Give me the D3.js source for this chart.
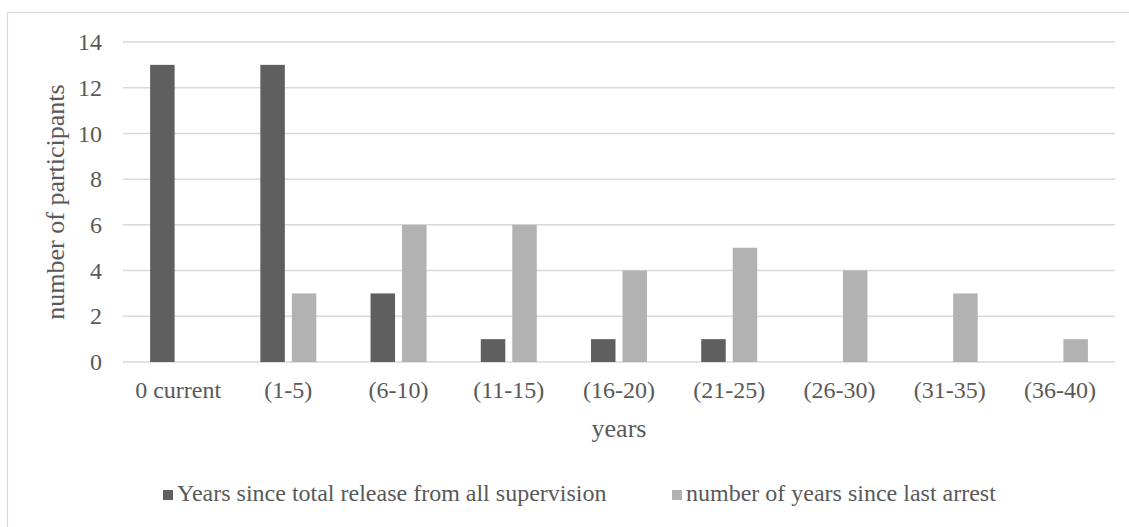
<!DOCTYPE html>
<html>
<head>
<meta charset="utf-8">
<script src="https://cdn.jsdelivr.net/npm/d3@7"></script>
<style>
  html, body { margin: 0; padding: 0; background: #fff; }
  svg { display: block; }
  text { font-family: "Liberation Serif", "Times New Roman", serif; fill: #595959; }
</style>
</head>
<body>
<svg id="chart" width="1129" height="527"></svg>
<script>
// Age-range categories on the x axis
const categories = ["0 current", "(1-5)", "(6-10)", "(11-15)", "(16-20)", "(21-25)", "(26-30)", "(31-35)", "(36-40)"];
// Series names
const seriesNames = ["Years since total release from all supervision", "number of years since last arrest"];
// Participants per range, one array per series
const releaseValues = [13, 13, 3, 1, 1, 1, 0, 0, 0];
const arrestValues = [0, 3, 6, 6, 4, 5, 4, 3, 1];
// Y axis ticks
const yTicks = [0, 2, 4, 6, 8, 10, 12, 14];

const seriesColors = ["#5f5f5f", "#b2b2b2"];
const seriesValues = [releaseValues, arrestValues];

const svg = d3.select("#chart");
const W = 1129, H = 527;
const plot = { left: 123, right: 1115, top: 42, bottom: 362 };

// Outer chart frame (runs off the right and bottom edges)
svg.append("rect")
  .attr("x", 7.5).attr("y", 12.5)
  .attr("width", 1200).attr("height", 600)
  .attr("fill", "none").attr("stroke", "#d9d9d9").attr("stroke-width", 1.2);

const y = d3.scaleLinear().domain([0, 14]).range([plot.bottom, plot.top]);
const x0 = d3.scaleBand().domain(categories)
  .range([plot.left, plot.right])
  .paddingInner(0.492).paddingOuter(0.246);
const x1 = d3.scaleBand().domain(d3.range(seriesNames.length))
  .range([0, x0.bandwidth()])
  .paddingInner(0.222);

// Horizontal gridlines
svg.append("g").selectAll("line")
  .data(yTicks)
  .join("line")
  .attr("x1", plot.left).attr("x2", plot.right)
  .attr("y1", d => y(d)).attr("y2", d => y(d))
  .attr("stroke", "#d9d9d9").attr("stroke-width", 1.5);

// Y axis tick labels
const yAxis = d3.axisLeft(y).tickValues(yTicks).tickSize(0).tickPadding(0).tickFormat(d3.format("d"));
const gy = svg.append("g").attr("transform", `translate(${plot.left - 21},0)`).call(yAxis);
gy.select(".domain").remove();
gy.selectAll("text")
  .attr("font-size", "24px")
  .attr("fill", "#595959")
  .style("font-family", "'Liberation Serif', 'Times New Roman', serif");

// X axis category labels
const xAxis = d3.axisBottom(x0).tickSize(0).tickPadding(0);
const gx = svg.append("g").attr("transform", `translate(0,${plot.bottom})`).call(xAxis);
gx.select(".domain").remove();
gx.selectAll("text")
  .attr("y", 36).attr("dy", null)
  .attr("font-size", "24px")
  .attr("fill", "#595959")
  .style("font-family", "'Liberation Serif', 'Times New Roman', serif");

// Bars
const groups = svg.append("g").selectAll("g")
  .data(categories)
  .join("g")
  .attr("transform", d => `translate(${x0(d)},0)`);

groups.selectAll("rect")
  .data((d, i) => seriesValues.map((vals, s) => ({ s, v: vals[i] })))
  .join("rect")
  .filter(d => d.v > 0)
  .attr("x", d => x1(d.s))
  .attr("width", x1.bandwidth())
  .attr("y", d => y(d.v))
  .attr("height", d => y(0) - y(d.v))
  .attr("fill", d => seriesColors[d.s]);

// Axis titles
svg.append("text")
  .attr("transform", `translate(64,${(plot.top + plot.bottom) / 2}) rotate(-90)`)
  .attr("text-anchor", "middle")
  .attr("font-size", "26px")
  .text("number of participants");

svg.append("text")
  .attr("x", (plot.left + plot.right) / 2)
  .attr("y", 437)
  .attr("text-anchor", "middle")
  .attr("font-size", "26px")
  .text("years");

// Legend
const legendX = [163, 672];
const legend = svg.append("g").selectAll("g")
  .data(seriesNames)
  .join("g")
  .attr("transform", (d, i) => `translate(${legendX[i]},0)`);
legend.append("rect")
  .attr("x", 0).attr("y", 490)
  .attr("width", 10).attr("height", 10)
  .attr("fill", (d, i) => seriesColors[i]);
legend.append("text")
  .attr("x", 14).attr("y", 501)
  .attr("font-size", "24px")
  .text(d => d);
</script>
</body>
</html>
